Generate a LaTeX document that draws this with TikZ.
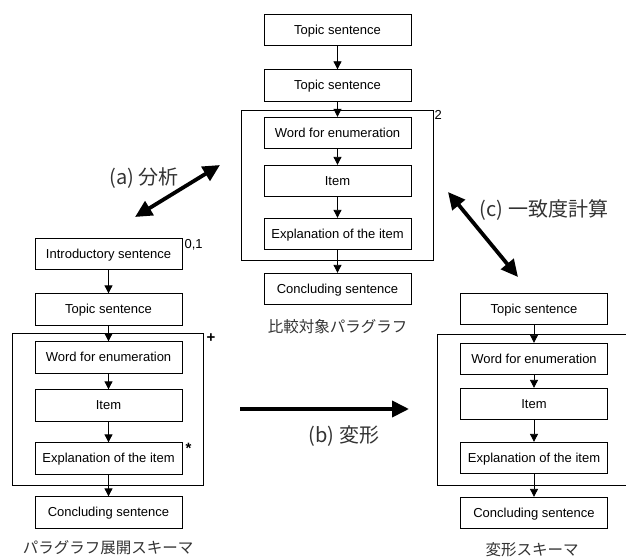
\documentclass[tikz,border=0pt]{standalone}
\usepackage{fontspec}
\setmainfont{Liberation Sans}
\newfontfamily\jpfont{Noto Sans CJK JP}
\usetikzlibrary{arrows.meta,fit}

\tikzset{
  sbox/.style={draw,line width=0.8pt,minimum width=147pt,minimum height=31.5pt,inner sep=0pt,
    text height=9.5pt,text depth=1pt,font=\fontsize{13}{15}\selectfont},
  grp/.style={draw,line width=0.8pt,inner sep=0pt},
  flow/.style={-{Triangle[width=8pt,length=8pt]},line width=0.8pt},
  bigarrow/.style={line width=3.8pt,-{Triangle[width=16pt,length=17pt]}},
  bothbig/.style={line width=3.8pt,{Triangle[width=16pt,length=17pt]}-{Triangle[width=16pt,length=17pt]}},
  jplabel/.style={font=\jpfont\fontsize{20}{22}\selectfont,text=black!80},
  caption/.style={font=\jpfont\fontsize{15.5}{17}\selectfont,text=black!80},
  tag/.style={font=\fontsize{13}{15}\selectfont,inner sep=1pt}
}

\begin{document}
\begin{tikzpicture}[x=1pt,y=-1pt]
  \useasboundingbox (0,0) rectangle (626,559);

  % comparison paragraph (middle)
  \node[sbox] (ct1) at (337.5,30) {Topic sentence};
  \node[sbox] (ct2) at (337.5,85.5) {Topic sentence};
  \node[sbox] (cw) at (337.5,133) {Word for enumeration};
  \node[sbox] (ci) at (337.5,181) {Item};
  \node[sbox] (ce) at (337.5,234) {Explanation of the item};
  \node[sbox] (cc) at (337.5,289) {Concluding sentence};
  \coordinate (cg1) at (241,110);
  \coordinate (cg2) at (433,260);
  \node[grp,fit=(cg1)(cg2)] (cgrp) {};
  \node[tag,anchor=north west] at (cgrp.north east) {2};
  \node[caption] (ccap) at (337.5,327) {比較対象パラグラフ};
  \draw[flow] (ct1) -- (ct2);
  \draw[flow] (ct2) -- (cw);
  \draw[flow] (cw) -- (ci);
  \draw[flow] (ci) -- (ce);
  \draw[flow] (ce) -- (cc);

  % development schema (left)
  \node[sbox] (li) at (108.5,254) {Introductory sentence};
  \node[sbox] (lt) at (108.5,309.5) {Topic sentence};
  \node[sbox] (lw) at (108.5,357.5) {Word for enumeration};
  \node[sbox] (lit) at (108.5,405.5) {Item};
  \node[sbox] (le) at (108.5,458.5) {Explanation of the item};
  \node[sbox] (lc) at (108.5,512.5) {Concluding sentence};
  \coordinate (lg1) at (12,333);
  \coordinate (lg2) at (203,485);
  \node[grp,fit=(lg1)(lg2)] (lgrp) {};
  \node[tag,anchor=north west] at ([xshift=1pt]li.north east) {0,1};
  \node[tag,anchor=north west,font=\fontsize{15}{15}\selectfont\bfseries] at ([xshift=2pt]lgrp.north east) {+};
  \node[tag,anchor=north west,font=\fontsize{15}{15}\selectfont\bfseries] at ([xshift=2pt]le.north east) {*};
  \node[caption] (lcap) at (108,548) {パラグラフ展開スキーマ};
  \draw[flow] (li) -- (lt);
  \draw[flow] (lt) -- (lw);
  \draw[flow] (lw) -- (lit);
  \draw[flow] (lit) -- (le);
  \draw[flow] (le) -- (lc);

  % transformed schema (right)
  \node[sbox] (rt) at (534,309) {Topic sentence};
  \node[sbox] (rw) at (534,359) {Word for enumeration};
  \node[sbox] (ri) at (534,404) {Item};
  \node[sbox] (re) at (534,458) {Explanation of the item};
  \node[sbox] (rc) at (534,513) {Concluding sentence};
  \coordinate (rg1) at (437,334);
  \coordinate (rg2) at (640,485);
  \node[grp,fit=(rg1)(rg2)] (rgrp) {};
  \node[caption] (rcap) at (532,550) {変形スキーマ};
  \draw[flow] (rt) -- (rw);
  \draw[flow] (rw) -- (ri);
  \draw[flow] (ri) -- (re);
  \draw[flow] (re) -- (rc);

  % big arrows
  \coordinate (a1) at (135,217);
  \coordinate (a2) at (220,165);
  \draw[bothbig] (a1) -- (a2);
  \node[jplabel] (alab) at (144,178) {(a) 分析};
  \coordinate (b1) at (240,409);
  \coordinate (b2) at (409,409);
  \draw[bigarrow] (b1) -- (b2);
  \node[jplabel] (blab) at (344,436) {(b) 変形};
  \coordinate (c1) at (448,192);
  \coordinate (c2) at (518,277);
  \draw[bothbig] (c1) -- (c2);
  \node[jplabel] (clab) at (544,210) {(c) 一致度計算};
\end{tikzpicture}
\end{document}
